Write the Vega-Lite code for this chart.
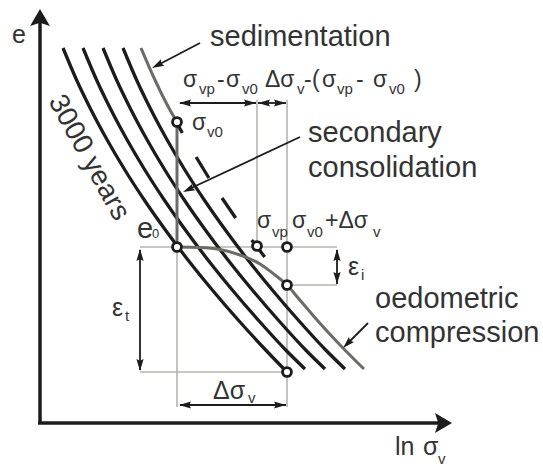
{
  "$schema": "https://vega.github.io/schema/vega-lite/v6.json",
  "width": 543,
  "height": 467,
  "autosize": {"type": "fit", "contains": "padding"},
  "padding": 0,
  "background": "white",
  "config": {"view": {"stroke": null}},
  "datasets": {
    "curves": [
      {"c": "c1", "x": 63, "y": 48}, {"c": "c1", "x": 76.6, "y": 80}, {"c": "c1", "x": 91.1, "y": 110}, {"c": "c1", "x": 107.2, "y": 140}, {"c": "c1", "x": 124.9, "y": 170}, {"c": "c1", "x": 144.3, "y": 200}, {"c": "c1", "x": 165.4, "y": 230}, {"c": "c1", "x": 188.0, "y": 260}, {"c": "c1", "x": 212.3, "y": 290}, {"c": "c1", "x": 238.2, "y": 320}, {"c": "c1", "x": 265.7, "y": 350}, {"c": "c1", "x": 286.9, "y": 372},
      {"c": "c2", "x": 83, "y": 48}, {"c": "c2", "x": 96.6, "y": 80}, {"c": "c2", "x": 111.1, "y": 110}, {"c": "c2", "x": 127.2, "y": 140}, {"c": "c2", "x": 144.9, "y": 170}, {"c": "c2", "x": 164.3, "y": 200}, {"c": "c2", "x": 185.4, "y": 230}, {"c": "c2", "x": 208.0, "y": 260}, {"c": "c2", "x": 232.3, "y": 290}, {"c": "c2", "x": 258.2, "y": 320}, {"c": "c2", "x": 285.7, "y": 350}, {"c": "c2", "x": 305.0, "y": 369},
      {"c": "c3", "x": 103, "y": 48}, {"c": "c3", "x": 116.6, "y": 80}, {"c": "c3", "x": 131.1, "y": 110}, {"c": "c3", "x": 147.2, "y": 140}, {"c": "c3", "x": 164.9, "y": 170}, {"c": "c3", "x": 184.3, "y": 200}, {"c": "c3", "x": 205.4, "y": 230}, {"c": "c3", "x": 228.0, "y": 260}, {"c": "c3", "x": 252.3, "y": 290}, {"c": "c3", "x": 278.2, "y": 320}, {"c": "c3", "x": 305.7, "y": 350}, {"c": "c3", "x": 325.0, "y": 369},
      {"c": "c4", "x": 123, "y": 48}, {"c": "c4", "x": 136.6, "y": 80}, {"c": "c4", "x": 151.1, "y": 110}, {"c": "c4", "x": 167.2, "y": 140}, {"c": "c4", "x": 184.9, "y": 170}, {"c": "c4", "x": 204.3, "y": 200}, {"c": "c4", "x": 225.4, "y": 230}, {"c": "c4", "x": 248.0, "y": 260}, {"c": "c4", "x": 272.3, "y": 290}, {"c": "c4", "x": 298.2, "y": 320}, {"c": "c4", "x": 325.7, "y": 350}, {"c": "c4", "x": 345.0, "y": 369},
      {"c": "sed", "x": 141, "y": 48}, {"c": "sed", "x": 155, "y": 80}, {"c": "sed", "x": 170, "y": 110}, {"c": "sed", "x": 177, "y": 122},
      {"c": "oed", "x": 177, "y": 247}, {"c": "oed", "x": 200, "y": 247.5}, {"c": "oed", "x": 220, "y": 249.5}, {"c": "oed", "x": 240, "y": 255}, {"c": "oed", "x": 260, "y": 264}, {"c": "oed", "x": 275, "y": 275}, {"c": "oed", "x": 287, "y": 285}, {"c": "oed", "x": 299, "y": 299}, {"c": "oed", "x": 317, "y": 320}, {"c": "oed", "x": 341, "y": 346}, {"c": "oed", "x": 364, "y": 369}
    ],
    "segs": [
      {"k": "guide", "x": 140, "y": 247, "x2": 337, "y2": 247},
      {"k": "guide", "x": 287, "y": 285, "x2": 337, "y2": 285},
      {"k": "guide", "x": 140, "y": 372, "x2": 287, "y2": 372},
      {"k": "guide", "x": 177, "y": 247, "x2": 177, "y2": 407},
      {"k": "guide", "x": 257, "y": 100, "x2": 257, "y2": 246},
      {"k": "guide", "x": 287, "y": 100, "x2": 287, "y2": 407},
      {"k": "gray", "x": 177, "y": 122, "x2": 177, "y2": 247},
      {"k": "dash", "x": 176.4, "y": 122, "x2": 182.3, "y2": 133},
      {"k": "dash", "x": 196.1, "y": 157, "x2": 208.9, "y2": 178},
      {"k": "dash", "x": 222, "y": 198, "x2": 235.7, "y2": 218},
      {"k": "dash", "x": 251.7, "y": 240, "x2": 264.7, "y2": 257},
      {"k": "axis", "x": 40, "y": 20, "x2": 40, "y2": 424},
      {"k": "axis", "x": 38, "y": 423, "x2": 444, "y2": 423},
      {"k": "arrow", "x": 180, "y": 103, "x2": 256, "y2": 103},
      {"k": "arrow", "x": 258, "y": 103, "x2": 286, "y2": 103},
      {"k": "arrow", "x": 337, "y": 250, "x2": 337, "y2": 284},
      {"k": "arrow", "x": 140, "y": 250, "x2": 140, "y2": 370},
      {"k": "arrow", "x": 180, "y": 405, "x2": 286, "y2": 405},
      {"k": "arrow", "x": 200, "y": 43, "x2": 156, "y2": 66},
      {"k": "arrow", "x": 300, "y": 137, "x2": 187, "y2": 190},
      {"k": "arrow", "x": 368, "y": 323, "x2": 346, "y2": 345}
    ],
    "heads": [
      {"k": "small", "x": 179, "y": 103, "h": 270},
      {"k": "small", "x": 256, "y": 103, "h": 90},
      {"k": "small", "x": 258, "y": 103, "h": 270},
      {"k": "small", "x": 286, "y": 103, "h": 90},
      {"k": "small", "x": 337, "y": 249, "h": 0},
      {"k": "small", "x": 337, "y": 284, "h": 180},
      {"k": "small", "x": 140, "y": 249, "h": 0},
      {"k": "small", "x": 140, "y": 371, "h": 180},
      {"k": "small", "x": 179, "y": 405, "h": 270},
      {"k": "small", "x": 286, "y": 405, "h": 90},
      {"k": "small", "x": 152, "y": 68, "h": 242.5},
      {"k": "small", "x": 183, "y": 192, "h": 244.8},
      {"k": "small", "x": 343, "y": 348, "h": 225},
      {"k": "big", "x": 40, "y": 9, "h": 0},
      {"k": "big", "x": 452, "y": 423, "h": 90}
    ],
    "dots": [
      {"x": 177, "y": 122}, {"x": 177, "y": 247}, {"x": 257, "y": 246},
      {"x": 287, "y": 247}, {"x": 287, "y": 285}, {"x": 287, "y": 372}
    ],
    "labels": [
      {"k": "word", "t": "sedimentation", "x": 210, "y": 46},
      {"k": "word", "t": "secondary", "x": 308, "y": 142},
      {"k": "word", "t": "consolidation", "x": 308, "y": 177},
      {"k": "word", "t": "oedometric", "x": 375, "y": 308},
      {"k": "word", "t": "compression", "x": 375, "y": 342},
      {"k": "word", "t": "e", "x": 137, "y": 238},
      {"k": "rot", "t": "3000 years", "x": 48, "y": 101},
      {"k": "L", "t": "e", "x": 12, "y": 43},
      {"k": "L", "t": "ln", "x": 395, "y": 455},
      {"k": "L", "t": "σ", "x": 423, "y": 455},
      {"k": "L", "t": "ε", "x": 112, "y": 316},
      {"k": "L", "t": "ε", "x": 348, "y": 275},
      {"k": "L", "t": "Δσ", "x": 213, "y": 399},
      {"k": "math", "t": "σ", "x": 183, "y": 87},
      {"k": "math", "t": "-", "x": 217, "y": 87},
      {"k": "math", "t": "σ", "x": 226, "y": 87},
      {"k": "math", "t": "Δσ", "x": 265, "y": 87},
      {"k": "math", "t": "-", "x": 304, "y": 87},
      {"k": "math", "t": "(", "x": 312, "y": 87},
      {"k": "math", "t": "σ", "x": 322, "y": 87},
      {"k": "math", "t": "-", "x": 356, "y": 87},
      {"k": "math", "t": "σ", "x": 373, "y": 87},
      {"k": "math", "t": ")", "x": 414, "y": 87},
      {"k": "math", "t": "σ", "x": 192, "y": 130},
      {"k": "math", "t": "σ", "x": 257, "y": 228},
      {"k": "math", "t": "σ", "x": 292, "y": 228},
      {"k": "math", "t": "+Δσ", "x": 325, "y": 228},
      {"k": "sub", "t": "vp", "x": 199, "y": 94},
      {"k": "sub", "t": "v0", "x": 242, "y": 94},
      {"k": "sub", "t": "v", "x": 297, "y": 94},
      {"k": "sub", "t": "vp", "x": 337, "y": 94},
      {"k": "sub", "t": "v0", "x": 389, "y": 94},
      {"k": "sub", "t": "v0", "x": 207, "y": 137},
      {"k": "sub", "t": "vp", "x": 272, "y": 237},
      {"k": "sub", "t": "v0", "x": 307, "y": 237},
      {"k": "sub", "t": "v", "x": 373, "y": 237},
      {"k": "sub2", "t": "0", "x": 152, "y": 238},
      {"k": "sub", "t": "t", "x": 125, "y": 321},
      {"k": "sub", "t": "i", "x": 361, "y": 280},
      {"k": "sub", "t": "v", "x": 248, "y": 403},
      {"k": "sub", "t": "v", "x": 438, "y": 464}
    ]
  },
  "encoding": {
    "x": {"field": "x", "type": "quantitative", "scale": {"domain": [0, 543], "nice": false, "zero": false}, "axis": null},
    "y": {"field": "y", "type": "quantitative", "scale": {"domain": [0, 467], "nice": false, "zero": false, "reverse": true}, "axis": null}
  },
  "layer": [
    {
      "data": {"name": "segs"},
      "transform": [{"filter": "datum.k === 'guide'"}],
      "mark": {"type": "rule", "stroke": "#b5b5ad", "strokeWidth": 1.6},
      "encoding": {"x2": {"field": "x2"}, "y2": {"field": "y2"}}
    },
    {
      "data": {"name": "curves"},
      "transform": [{"filter": {"field": "c", "oneOf": ["c1", "c2", "c3", "c4"]}}],
      "mark": {"type": "line", "color": "#1c1c1c", "strokeWidth": 3.3, "interpolate": "monotone"},
      "encoding": {"detail": {"field": "c"}}
    },
    {
      "data": {"name": "curves"},
      "transform": [{"filter": {"field": "c", "oneOf": ["sed", "oed"]}}],
      "mark": {"type": "line", "color": "#6c6c66", "strokeWidth": 3, "interpolate": "monotone"},
      "encoding": {"detail": {"field": "c"}}
    },
    {
      "data": {"name": "segs"},
      "transform": [{"filter": "datum.k === 'gray'"}],
      "mark": {"type": "rule", "stroke": "#6c6c66", "strokeWidth": 3},
      "encoding": {"x2": {"field": "x2"}, "y2": {"field": "y2"}}
    },
    {
      "data": {"name": "segs"},
      "transform": [{"filter": "datum.k === 'dash'"}],
      "mark": {"type": "rule", "stroke": "#1c1c1c", "strokeWidth": 3.3},
      "encoding": {"x2": {"field": "x2"}, "y2": {"field": "y2"}}
    },
    {
      "data": {"name": "segs"},
      "transform": [{"filter": "datum.k === 'axis'"}],
      "mark": {"type": "rule", "stroke": "#1c1c1c", "strokeWidth": 3.5},
      "encoding": {"x2": {"field": "x2"}, "y2": {"field": "y2"}}
    },
    {
      "data": {"name": "segs"},
      "transform": [{"filter": "datum.k === 'arrow'"}],
      "mark": {"type": "rule", "stroke": "#1c1c1c", "strokeWidth": 1.8},
      "encoding": {"x2": {"field": "x2"}, "y2": {"field": "y2"}}
    },
    {
      "data": {"name": "heads"},
      "transform": [{"filter": "datum.k === 'small'"}],
      "mark": {"type": "point", "shape": "M0,0L0.6,2L0,1.7L-0.6,2Z", "filled": true, "color": "#1c1c1c", "size": 144, "opacity": 1, "strokeWidth": 0},
      "encoding": {"angle": {"field": "h", "type": "quantitative", "scale": null}}
    },
    {
      "data": {"name": "heads"},
      "transform": [{"filter": "datum.k === 'big'"}],
      "mark": {"type": "point", "shape": "M0,0L1.05,1.8L0,1.45L-1.05,1.8Z", "filled": true, "color": "#1c1c1c", "size": 357, "opacity": 1, "strokeWidth": 0},
      "encoding": {"angle": {"field": "h", "type": "quantitative", "scale": null}}
    },
    {
      "data": {"name": "dots"},
      "mark": {"type": "point", "shape": "circle", "filled": true, "fill": "white", "stroke": "#1c1c1c", "strokeWidth": 2.8, "size": 80, "opacity": 1}
    },
    {
      "data": {"name": "labels"},
      "transform": [{"filter": "datum.k === 'word'"}],
      "mark": {"type": "text", "align": "left", "baseline": "alphabetic", "font": "Liberation Sans", "fontSize": 29, "color": "#333333"},
      "encoding": {"text": {"field": "t"}}
    },
    {
      "data": {"name": "labels"},
      "transform": [{"filter": "datum.k === 'rot'"}],
      "mark": {"type": "text", "align": "left", "baseline": "alphabetic", "font": "Liberation Sans", "fontSize": 28, "angle": 61, "color": "#333333"},
      "encoding": {"text": {"field": "t"}}
    },
    {
      "data": {"name": "labels"},
      "transform": [{"filter": "datum.k === 'L'"}],
      "mark": {"type": "text", "align": "left", "baseline": "alphabetic", "font": "Liberation Sans", "fontSize": 25, "color": "#333333"},
      "encoding": {"text": {"field": "t"}}
    },
    {
      "data": {"name": "labels"},
      "transform": [{"filter": "datum.k === 'math'"}],
      "mark": {"type": "text", "align": "left", "baseline": "alphabetic", "font": "Liberation Sans", "fontSize": 23, "color": "#333333"},
      "encoding": {"text": {"field": "t"}}
    },
    {
      "data": {"name": "labels"},
      "transform": [{"filter": "datum.k === 'sub'"}],
      "mark": {"type": "text", "align": "left", "baseline": "alphabetic", "font": "Liberation Sans", "fontSize": 15, "color": "#333333"},
      "encoding": {"text": {"field": "t"}}
    },
    {
      "data": {"name": "labels"},
      "transform": [{"filter": "datum.k === 'sub2'"}],
      "mark": {"type": "text", "align": "left", "baseline": "alphabetic", "font": "Liberation Sans", "fontSize": 13, "color": "#333333"},
      "encoding": {"text": {"field": "t"}}
    }
  ]
}
